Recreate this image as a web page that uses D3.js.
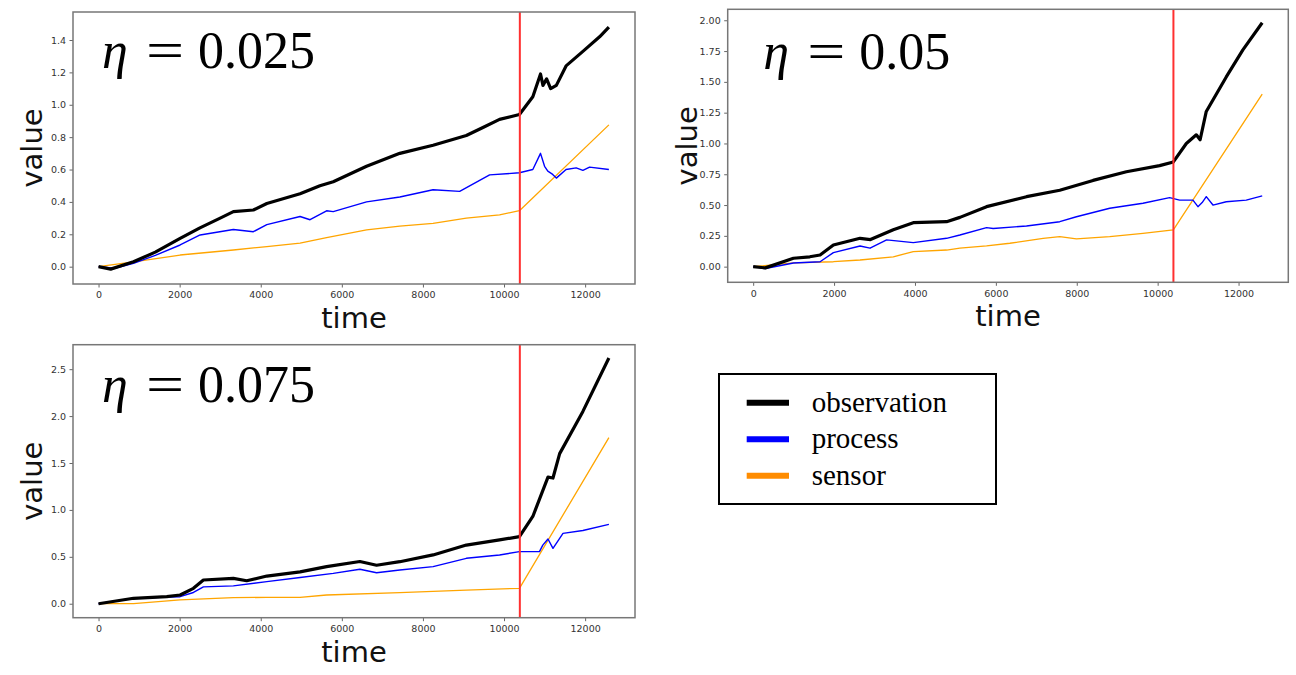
<!DOCTYPE html>
<html lang="en">
    <head>
        <meta charset="utf-8">
        <title>eta comparison</title>
        <script src="https://cdn.jsdelivr.net/npm/d3@7"></script>
    </head>
    <style>
        body
        {
            margin: 0;
            background: white;
        }
        .tick text
        {
            font-family: "DejaVu Sans", sans-serif;
            font-size: 9.5px;
            fill: #333;
        }
        .axislabel
        {
            font-family: "DejaVu Sans", sans-serif;
            font-size: 29px;
            fill: #111;
        }
        .eta
        {
            font-family: "Liberation Serif", serif;
            font-size: 52px;
            fill: black;
        }
        .legendtext
        {
            font-family: "Liberation Serif", serif;
            font-size: 29px;
            fill: black;
        }
    </style>
    <body>
        <svg id="mainsvg" width="1296" height="675"></svg>
        <script>
            // values, [time, value]
            var etaLabels = ['0.025', '0.05', '0.075']
            var changeTime = 10390
            var xTicks = [0, 2000, 4000, 6000, 8000, 10000, 12000]
            var yTicks025 = [0, 0.2, 0.4, 0.6, 0.8, 1.0, 1.2, 1.4]
            var yTicks05 = [0, 0.25, 0.5, 0.75, 1.0, 1.25, 1.5, 1.75, 2.0]
            var yTicks075 = [0, 0.5, 1.0, 1.5, 2.0, 2.5]

            var obs025 = [[0,0],[300,-0.015],[862,0.03],[1400,0.09],[2012,0.175],[2500,0.24],[3000,0.30],[3325,0.34],[3818,0.35],[4150,0.39],[4970,0.45],[5460,0.50],[5788,0.525],[6610,0.62],[7430,0.70],[8250,0.75],[9070,0.81],[9480,0.86],[9890,0.91],[10380,0.94],[10710,1.05],[10900,1.19],[10960,1.12],[11050,1.16],[11150,1.10],[11290,1.12],[11530,1.24],[11945,1.33],[12357,1.42],[12586,1.48]]
            var proc025 = [[0,0],[400,-0.01],[862,0.02],[1400,0.07],[2012,0.134],[2505,0.196],[3325,0.23],[3818,0.216],[4150,0.26],[4970,0.31],[5216,0.29],[5624,0.345],[5788,0.34],[6610,0.40],[7430,0.43],[8250,0.475],[8906,0.465],[9645,0.567],[10380,0.58],[10710,0.60],[10900,0.70],[11000,0.62],[11080,0.59],[11200,0.57],[11290,0.547],[11530,0.60],[11780,0.61],[11945,0.595],[12110,0.615],[12586,0.60]]
            var sens025 = [[0,0],[862,0.03],[2012,0.072],[3325,0.103],[4150,0.124],[4970,0.145],[5624,0.18],[6610,0.227],[7430,0.25],[8250,0.268],[9070,0.30],[9890,0.32],[10380,0.346],[12586,0.876]]

            var obs05 = [[0,0],[300,-0.01],[995,0.068],[1400,0.08],[1654,0.095],[1983,0.176],[2642,0.23],[2900,0.22],[3464,0.30],[3958,0.357],[4782,0.365],[5111,0.40],[5770,0.487],[6758,0.568],[7580,0.62],[8403,0.70],[9227,0.77],[10049,0.82],[10388,0.85],[10709,1.00],[10956,1.07],[11050,1.03],[11202,1.26],[11696,1.54],[12107,1.76],[12585,1.98]]
            var proc05 = [[0,0],[300,-0.015],[995,0.03],[1654,0.04],[1983,0.114],[2642,0.168],[2889,0.15],[3300,0.217],[3958,0.195],[4782,0.23],[5111,0.257],[5770,0.317],[5933,0.31],[6758,0.33],[7580,0.365],[7992,0.405],[8815,0.474],[9637,0.515],[10296,0.56],[10543,0.54],[10872,0.54],[10996,0.487],[11100,0.52],[11202,0.568],[11367,0.50],[11696,0.527],[12190,0.54],[12585,0.574]]
            var sens05 = [[0,0],[995,0.03],[1983,0.04],[2642,0.054],[3464,0.08],[3958,0.122],[4782,0.135],[5111,0.15],[5770,0.168],[6346,0.19],[7169,0.23],[7580,0.243],[7992,0.225],[8815,0.243],[9637,0.27],[10388,0.298],[12585,1.40]]

            var obs075 = [[0,0],[862,0.058],[1683,0.075],[2012,0.093],[2340,0.164],[2586,0.253],[3325,0.27],[3654,0.245],[4150,0.295],[4970,0.34],[5624,0.395],[6445,0.45],[6856,0.41],[7430,0.448],[8250,0.52],[9070,0.625],[9890,0.68],[10380,0.715],[10710,0.93],[11084,1.35],[11207,1.34],[11372,1.60],[11945,2.05],[12586,2.62]]
            var proc075 = [[0,0],[862,0.058],[1683,0.07],[2012,0.075],[2340,0.12],[2586,0.18],[3325,0.19],[4150,0.235],[4970,0.28],[5788,0.324],[6445,0.367],[6856,0.33],[7430,0.36],[8250,0.395],[9070,0.484],[9890,0.52],[10380,0.555],[10874,0.555],[10956,0.625],[11084,0.69],[11207,0.59],[11454,0.75],[11945,0.78],[12586,0.846]]
            var sens075 = [[0,0],[862,0.0],[2012,0.04],[3325,0.064],[4150,0.068],[4970,0.068],[5624,0.093],[7430,0.118],[9070,0.146],[10380,0.164],[12586,1.77]]

            var legendNames = ['observation', 'process', 'sensor']
            var lineColors = ['black', '#0000ff', '#ffa500']
            var legendColors = ['black', '#0000ff', '#ff8c00']

            // panel frames in pixels
            var panels = [
                {left: 73, top: 12, right: 635, bottom: 284, ydom: [-0.107, 1.573], ticks: yTicks025, fmt: '.1f', eta: etaLabels[0], etaDx: 29, etaDy: 56, series: [obs025, proc025, sens025]},
                {left: 727.7, top: 9.3, right: 1288.3, bottom: 282.3, ydom: [-0.127, 2.089], ticks: yTicks05, fmt: '.2f', eta: etaLabels[1], etaDx: 35.6, etaDy: 59.7, series: [obs05, proc05, sens05]},
                {left: 73, top: 344.7, right: 635, bottom: 617.7, ydom: [-0.149, 2.761], ticks: yTicks075, fmt: '.1f', eta: etaLabels[2], etaDx: 29, etaDy: 57.6, series: [obs075, proc075, sens075]}
            ]
            var lineWidths = [3.2, 1.4, 1.3]

            var svg = d3.select('#mainsvg')

            panels.forEach(function (p)
            {
                var x = d3.scaleLinear().domain([-630, 13230]).range([p.left, p.right])
                var y = d3.scaleLinear().domain(p.ydom).range([p.bottom, p.top])
                var g = svg.append('g')

                g.append('g')
                    .attr('transform', 'translate(0,' + p.bottom + ')')
                    .call(d3.axisBottom(x).tickValues(xTicks).tickFormat(d3.format('d')).tickSize(3.5).tickPadding(4))
                    .call(function (a) { a.select('.domain').remove() })
                g.append('g')
                    .attr('transform', 'translate(' + p.left + ',0)')
                    .call(d3.axisLeft(y).tickValues(p.ticks).tickFormat(d3.format(p.fmt)).tickSize(3.5).tickPadding(3.5))
                    .call(function (a) { a.select('.domain').remove() })
                g.selectAll('.tick line').attr('stroke', '#666')

                var line = d3.line()
                    .x(function (d) { return x(d[0]) })
                    .y(function (d) { return y(d[1]) })

                // sensor first, observation on top like the reference
                ;[2, 1, 0].forEach(function (i)
                {
                    g.append('path')
                        .datum(p.series[i])
                        .attr('d', line)
                        .attr('fill', 'none')
                        .attr('stroke', lineColors[i])
                        .attr('stroke-width', lineWidths[i])
                        .attr('stroke-linejoin', 'round')
                })

                g.append('line')
                    .attr('x1', x(changeTime)).attr('x2', x(changeTime))
                    .attr('y1', p.top).attr('y2', p.bottom)
                    .attr('stroke', '#ff3030')
                    .attr('stroke-width', 2)

                g.append('rect')
                    .attr('x', p.left).attr('y', p.top)
                    .attr('width', p.right - p.left).attr('height', p.bottom - p.top)
                    .attr('fill', 'none')
                    .attr('stroke', '#777')
                    .attr('stroke-width', 1.5)

                g.append('text')
                    .attr('class', 'axislabel')
                    .attr('x', (p.left + p.right) / 2)
                    .attr('y', p.bottom + 44)
                    .attr('text-anchor', 'middle')
                    .text('time')

                g.append('text')
                    .attr('class', 'axislabel')
                    .attr('transform', 'translate(' + (p.left - 31) + ',' + ((p.top + p.bottom) / 2) + ') rotate(-90)')
                    .attr('text-anchor', 'middle')
                    .text('value')

                // eta label: symbol, a wide equals sign, then the number
                var ex = p.left + p.etaDx
                var ey = p.top + p.etaDy
                g.append('text')
                    .attr('class', 'eta')
                    .attr('x', ex).attr('y', ey)
                    .style('font-style', 'italic')
                    .text('η')
                g.append('text')
                    .attr('class', 'eta')
                    .attr('transform', 'translate(' + (ex + 44) + ',' + ey + ') scale(1.3,1)')
                    .text('=')
                g.append('text')
                    .attr('class', 'eta')
                    .attr('x', ex + 96).attr('y', ey)
                    .text(p.eta)
            })

            // legend box
            var legend = svg.append('g')
            legend.append('rect')
                .attr('x', 719).attr('y', 374)
                .attr('width', 277).attr('height', 130)
                .attr('fill', 'white')
                .attr('stroke', 'black')
                .attr('stroke-width', 2)

            legendNames.forEach(function (name, i)
            {
                var ly = 402.7 + i * 36.5
                legend.append('line')
                    .attr('x1', 746.7).attr('x2', 789)
                    .attr('y1', ly).attr('y2', ly)
                    .attr('stroke', legendColors[i])
                    .attr('stroke-width', 6)
                legend.append('text')
                    .attr('class', 'legendtext')
                    .attr('x', 811.7)
                    .attr('y', ly + 9)
                    .text(name)
            })
        </script>
    </body>
</html>
